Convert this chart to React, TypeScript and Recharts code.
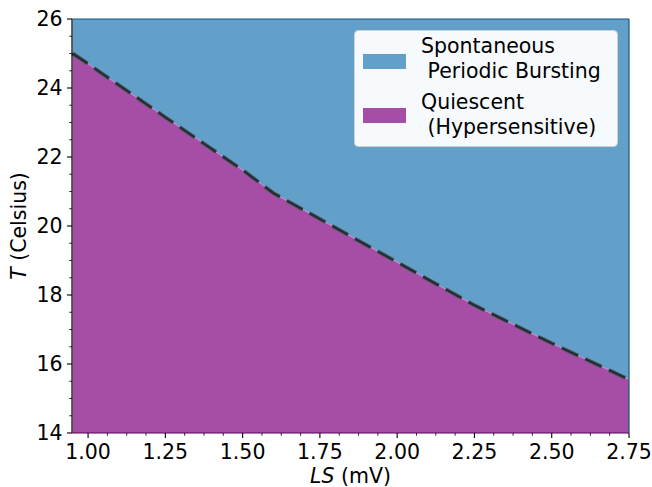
import React from 'react';
import { ComposedChart, Area, Line, XAxis, YAxis, Legend, ReferenceLine } from 'recharts';

// boundary between the two regimes
const lsValues = [0.95, 1.0, 1.25, 1.5, 1.6, 1.75, 2.0, 2.25, 2.5, 2.75];
const boundaryT = [25.0, 24.7, 23.15, 21.62, 20.95, 20.2, 18.95, 17.7, 16.6, 15.55];

const xMajorTicks = [1.0, 1.25, 1.5, 1.75, 2.0, 2.25, 2.5, 2.75];
const yMajorTicks = [14, 16, 18, 20, 22, 24, 26];

const regimeNames = ['Spontaneous\n Periodic Bursting', 'Quiescent\n (Hypersensitive)'];
const regimeColors = ['#62a0ca', '#a64da6'];

const X_MIN = 0.948;
const X_MAX = 2.75;
const Y_MIN = 14;
const Y_MAX = 26;

const FONT = '"DejaVu Sans", sans-serif';
const FS = 20.5;

const data = lsValues.map((ls, i) => ({ ls, T: boundaryT[i], top: [boundaryT[i], Y_MAX] }));

// minor ticks: 4 per major step on x, 4 per major step on y
const xTicks: number[] = [];
for (let i = 0; i < xMajorTicks.length - 1; i++) {
    for (let k = 0; k < 4; k++) xTicks.push(+(xMajorTicks[i] + (k * (xMajorTicks[i + 1] - xMajorTicks[i])) / 4).toFixed(4));
}
xTicks.push(xMajorTicks[xMajorTicks.length - 1]);
const yTicks: number[] = [];
for (let i = 0; i < yMajorTicks.length - 1; i++) {
    for (let k = 0; k < 4; k++) yTicks.push(yMajorTicks[i] + (k * (yMajorTicks[i + 1] - yMajorTicks[i])) / 4);
}
yTicks.push(yMajorTicks[yMajorTicks.length - 1]);

const isMajorX = (v: number) => xMajorTicks.some((t) => Math.abs(t - v) < 1e-6);
const isMajorY = (v: number) => yMajorTicks.some((t) => Math.abs(t - v) < 1e-6);

const XTick = ({ x, y, payload }: any) => {
    const major = isMajorX(payload.value);
    return (
        <g>
            <line x1={x} x2={x} y1={y} y2={y + (major ? 5 : 2.8)} stroke="#000" strokeWidth={major ? 1.1 : 0.8} />
            {major && (
                <text x={x} y={y + 26} textAnchor="middle" fontFamily={FONT} fontSize={FS} fill="#000">
                    {payload.value.toFixed(2)}
                </text>
            )}
        </g>
    );
};

const YTick = ({ x, y, payload }: any) => {
    const major = isMajorY(payload.value);
    return (
        <g>
            <line x1={x} x2={x - (major ? 5 : 2.8)} y1={y} y2={y} stroke="#000" strokeWidth={major ? 1.1 : 0.8} />
            {major && (
                <text x={x - 9.5} y={y + 7.3} textAnchor="end" fontFamily={FONT} fontSize={FS} fill="#000">
                    {payload.value}
                </text>
            )}
        </g>
    );
};

const RightTick = ({ x, y, payload }: any) => {
    const major = isMajorY(payload.value);
    return <line x1={x} x2={x + (major ? 5 : 2.8)} y1={y} y2={y} stroke="#000" strokeWidth={major ? 1.1 : 0.8} />;
};

const XLabel = ({ viewBox }: any) => (
    <text x={viewBox.x + viewBox.width / 2} y={viewBox.y + 50} textAnchor="middle" fontFamily={FONT} fontSize={FS} fill="#000">
        <tspan fontStyle="italic">LS</tspan> (mV)
    </text>
);

const YLabel = ({ viewBox }: any) => {
    const cx = 26;
    const cy = viewBox.y + viewBox.height / 2;
    return (
        <text x={cx} y={cy} transform={`rotate(-90 ${cx} ${cy})`} textAnchor="middle" fontFamily={FONT} fontSize={FS} fill="#000">
            <tspan fontStyle="italic">T</tspan> (Celsius)
        </text>
    );
};

const LegendBox = () => (
    <svg width={264} height={117} style={{ display: 'block' }}>
        <rect x={0.5} y={0.5} width={263} height={116} rx={4} fill="#fff" fillOpacity={0.95} stroke="#d0d0d0" />
        {regimeNames.map((name, i) => (
            <g key={name}>
                <rect x={9} y={24 + i * 54} width={43} height={15} fill={regimeColors[i]} />
                {name.split('\n').map((line, j) => (
                    <text
                        key={j}
                        x={67}
                        y={23 + i * 56 + j * 24.5}
                        fontFamily={FONT}
                        fontSize={FS}
                        fill="#000"
                        style={{ whiteSpace: 'pre' }}
                    >
                        {line}
                    </text>
                ))}
            </g>
        ))}
    </svg>
);

export default function App() {
    return (
        <div style={{ position: 'absolute', left: 0, top: 0, width: 652, height: 487, background: '#fff' }}>
            <ComposedChart width={652} height={487} data={data} margin={{ top: 19, right: 0, bottom: 0, left: 0 }}>
                <XAxis
                    dataKey="ls"
                    type="number"
                    domain={[X_MIN, X_MAX]}
                    ticks={xTicks}
                    interval={0}
                    height={54}
                    tickSize={0}
                    tickMargin={0}
                    tickLine={false}
                    axisLine={false}
                    tick={<XTick />}
                    label={{ content: <XLabel /> } as any}
                />
                <YAxis
                    yAxisId="left"
                    type="number"
                    domain={[Y_MIN, Y_MAX]}
                    ticks={yTicks}
                    interval={0}
                    width={72}
                    tickSize={0}
                    tickMargin={0}
                    tickLine={false}
                    axisLine={false}
                    tick={<YTick />}
                    label={{ content: <YLabel /> } as any}
                />
                <YAxis
                    yAxisId="right"
                    orientation="right"
                    type="number"
                    domain={[Y_MIN, Y_MAX]}
                    ticks={yTicks}
                    interval={0}
                    width={23}
                    tickSize={0}
                    tickMargin={0}
                    tickLine={false}
                    axisLine={false}
                    tick={<RightTick />}
                />
                <Area
                    yAxisId="left"
                    dataKey="top"
                    type="linear"
                    fill={regimeColors[0]}
                    fillOpacity={1}
                    stroke="none"
                    isAnimationActive={false}
                />
                <Area
                    yAxisId="left"
                    dataKey="T"
                    type="linear"
                    fill={regimeColors[1]}
                    fillOpacity={1}
                    stroke="#c88ccb"
                    strokeWidth={1}
                    isAnimationActive={false}
                />
                <Line
                    yAxisId="left"
                    dataKey="T"
                    type="linear"
                    stroke="#4f5d68"
                    strokeWidth={4}
                    strokeDasharray="18 8"
                    dot={false}
                    isAnimationActive={false}
                />
                <Line
                    yAxisId="left"
                    dataKey="T"
                    type="linear"
                    stroke="#262c33"
                    strokeWidth={2.2}
                    strokeDasharray="18 8"
                    dot={false}
                    isAnimationActive={false}
                />
                <ReferenceLine yAxisId="left" x={X_MIN} stroke="#000" strokeWidth={1.2} />
                <ReferenceLine yAxisId="left" y={Y_MAX} stroke="#17557f" strokeWidth={1.2} />
                <ReferenceLine yAxisId="left" x={X_MAX} stroke="#17557f" strokeWidth={1.2} />
                <ReferenceLine yAxisId="left" y={Y_MIN} stroke="#5a005a" strokeWidth={1.2} />
                <Legend
                    layout="horizontal"
                    verticalAlign="middle"
                    align="center"
                    wrapperStyle={{ position: 'absolute', left: 354, top: 30, width: 264, height: 117 }}
                    content={<LegendBox />}
                />
            </ComposedChart>
        </div>
    );
}
